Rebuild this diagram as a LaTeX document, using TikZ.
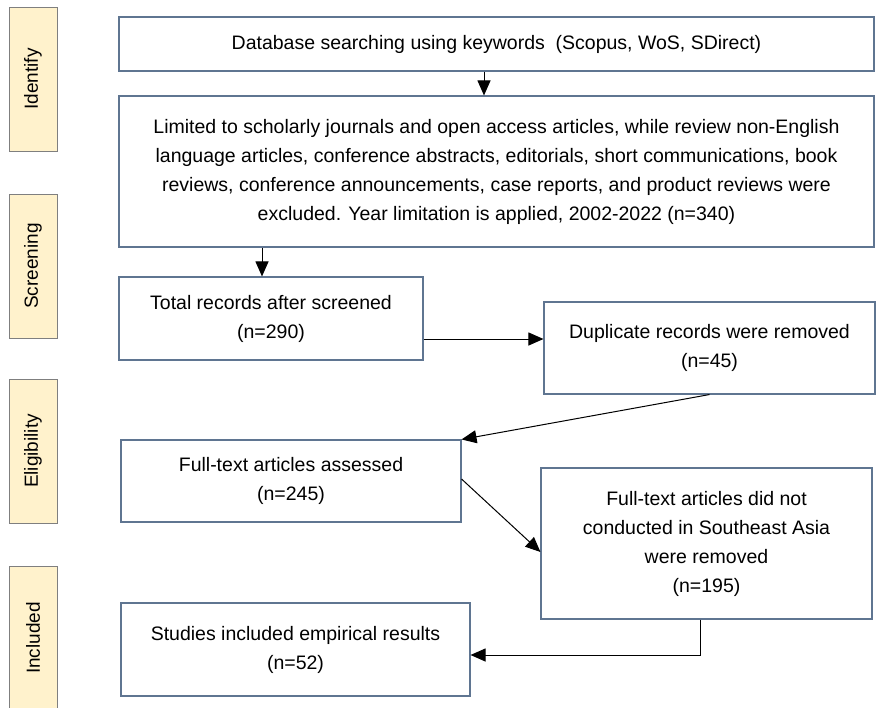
\documentclass[tikz,border=0pt]{standalone}
\usepackage{fontspec}
\setmainfont{Liberation Sans}
\usetikzlibrary{arrows.meta}
\definecolor{stagefill}{HTML}{FFF2CC}
\definecolor{stageline}{HTML}{7F7F7F}
\definecolor{boxline}{HTML}{5F7591}

\begin{document}
\begin{tikzpicture}[x=1pt, y=-1pt,
    stage/.style={draw=stageline, fill=stagefill, line width=1pt, rotate=90,
        minimum width=144pt, minimum height=48pt, inner sep=0pt,
        font=\fontsize{19}{22}\selectfont},
    box/.style={draw=boxline, line width=1.1pt, align=center, inner sep=0pt,
        font=\fontsize{19.5}{29}\selectfont},
    arr/.style={line width=1pt, -{Triangle[length=15pt, width=13pt]}}]
    \useasboundingbox (0,0) rectangle (878,707);
    % Draw stage labels
    \node[stage] (identify) at (33,79) {Identify};
    \node[stage] (screening) at (33,266) {Screening};
    \node[stage] (eligibility) at (33,451) {Eligibility};
    \node[stage] (included) at (33,638) {Included};
    % Draw boxes
    \node[box, minimum width=755pt, minimum height=54pt] (db) at (496.5,44)
        {Database searching using keywords\ \ (Scopus, WoS, SDirect)};
    \node[box, minimum width=755pt, minimum height=151pt] (lim) at (496.5,171.5)
        {Limited to scholarly journals and open access articles, while review non-English\\
         language articles, conference abstracts, editorials, short communications, book\\
         reviews, conference announcements, case reports, and product reviews were\\
         excluded. Year limitation is applied, 2002-2022 (n=340)};
    \node[box, minimum width=304pt, minimum height=83pt] (tot) at (271,318.5)
        {Total records after screened\\(n=290)};
    \node[box, minimum width=331pt, minimum height=92pt] (dup) at (709.5,348)
        {Duplicate records were removed\\(n=45)};
    \node[box, minimum width=340pt, minimum height=82pt] (full) at (291,481)
        {Full-text articles assessed\\(n=245)};
    \node[box, minimum width=331pt, minimum height=151pt] (nsea) at (706.5,543.5)
        {Full-text articles did not\\conducted in Southeast Asia\\were removed\\(n=195)};
    \node[box, minimum width=349pt, minimum height=93pt] (incl) at (295.5,649.5)
        {Studies included empirical results\\(n=52)};
    % Draw arrows
    \draw[arr] ([xshift=-12.5pt]db.south) -- ([xshift=-12.5pt]lim.north);
    \draw[arr] ([xshift=-9pt]tot.north |- lim.south) -- ([xshift=-9pt]tot.north);
    \draw[arr] ([yshift=-20.5pt]tot.east) -- ([yshift=-20.5pt]tot.east -| dup.west);
    \draw[arr] (dup.south) -- (full.north east);
    \draw[arr] ([yshift=2pt]full.east) -- ([yshift=-8.5pt]nsea.west);
    \draw[arr] ([xshift=-6.5pt]nsea.south) |- ([yshift=-5.5pt]incl.east);
\end{tikzpicture}
\end{document}
